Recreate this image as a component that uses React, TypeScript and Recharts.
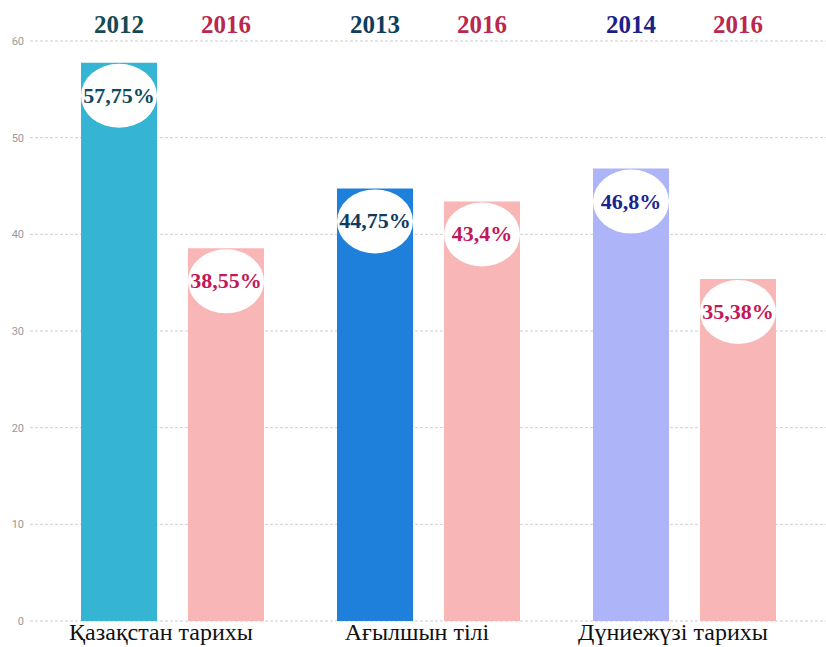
import { BarChart, Bar, XAxis, YAxis, CartesianGrid, Cell, LabelList } from 'recharts';

const categories = ['Қазақстан тарихы', 'Ағылшын тілі', 'Дүниежүзі тарихы'];
const firstYears = ['2012', '2013', '2014'];
const secondYears = ['2016', '2016', '2016'];
const firstValues = [57.75, 44.75, 46.8];
const secondValues = [38.55, 43.4, 35.38];
const yTicks = [0, 10, 20, 30, 40, 50, 60];

const firstColors = ['#36B4D3', '#1E80DB', '#AEB4F8'];
const firstYearColors = ['#124B55', '#0C3E5E', '#1B1F8A'];
const firstTextColors = ['#0F4B5E', '#0F3C5C', '#1A2490'];
const pink = '#F9B6B6';
const crimson = '#B8294F';
const crimsonText = '#C2185B';

const data = categories.map((name, i) => ({
  name,
  first: firstValues[i],
  second: secondValues[i],
  yearFirst: firstYears[i],
  yearSecond: secondYears[i],
}));

const TOP = 41;
const serif = '"Liberation Serif", "Times New Roman", serif';

const fmt = (v: number) => `${String(v).replace('.', ',')}%`;

const makeBubble = (colors: string[] | string) => (props: any) => {
  const { x, y, width, value, index } = props;
  const color = Array.isArray(colors) ? colors[index ?? 0] : colors;
  const cx = x + width / 2;
  return (
    <g>
      <ellipse cx={cx} cy={y + 33} rx={width / 2} ry={32} fill="#fff" />
      <text x={cx} y={y + 40} textAnchor="middle" fontFamily={serif} fontWeight="bold" fontSize={22} fill={color}>
        {fmt(value)}
      </text>
    </g>
  );
};

const makeYear = (colors: string[] | string) => (props: any) => {
  const { x, width, value, index } = props;
  const color = Array.isArray(colors) ? colors[index ?? 0] : colors;
  return (
    <text x={x + width / 2} y={TOP - 8} textAnchor="middle" fontFamily={serif} fontWeight="bold" fontSize={25} fill={color}>
      {value}
    </text>
  );
};

export default function App() {
  return (
    <div style={{ position: 'absolute', left: 0, top: 0, background: '#fff' }}>
      <BarChart
        width={826}
        height={647}
        data={data}
        margin={{ top: TOP, right: 0, left: 0, bottom: 0 }}
        barSize={76}
        barGap={31}
        barCategoryGap="14%"
      >
        <CartesianGrid vertical={false} stroke="#cfcfcf" strokeDasharray="3 2" />
        <XAxis
          dataKey="name"
          axisLine={false}
          tickLine={false}
          tickSize={0}
          tickMargin={2}
          height={26}
          padding={{ left: 14, right: 14 }}
          tick={{ fontSize: 24, fontFamily: serif, fill: '#111', dx: -11 }}
          interval={0}
        />
        <YAxis
          domain={[0, 60]}
          ticks={yTicks}
          width={30}
          axisLine={false}
          tickLine={false}
          tickSize={4}
          tick={{ fontSize: 11, fill: '#999', fontFamily: 'Roboto, sans-serif' }}
        />
        <Bar dataKey="first" isAnimationActive={false}>
          {data.map((d, i) => (
            <Cell key={d.name} fill={firstColors[i]} />
          ))}
          <LabelList dataKey="first" content={makeBubble(firstTextColors)} />
          <LabelList dataKey="yearFirst" content={makeYear(firstYearColors)} />
        </Bar>
        <Bar dataKey="second" fill={pink} isAnimationActive={false}>
          <LabelList dataKey="second" content={makeBubble(crimsonText)} />
          <LabelList dataKey="yearSecond" content={makeYear(crimson)} />
        </Bar>
      </BarChart>
    </div>
  );
}
